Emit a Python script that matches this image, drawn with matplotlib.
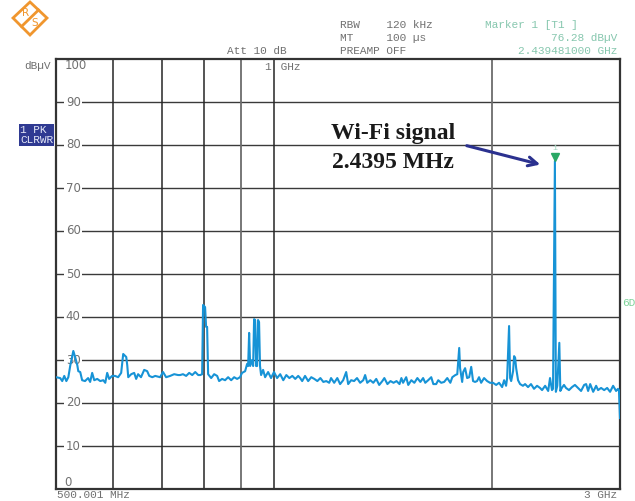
import matplotlib.pyplot as plt
from matplotlib.patches import Polygon
from matplotlib.lines import Line2D
from matplotlib.ticker import NullLocator
from matplotlib.transforms import offset_copy

# spectrum trace (MHz, dBuV)
freq_mhz = [
    500, 506.7, 510, 513.3, 516.7, 520, 523.3, 528.3, 531.7, 535,
    536.7, 540, 543.3, 548.3, 553.7, 557.3, 560.9, 564.6, 570, 575.5,
    581, 584.7, 588.3, 592, 597.5, 603.2, 609.1, 615, 619, 625,
    627, 629, 635, 641, 645, 649, 655, 661.7, 668, 672.4,
    678.9, 685.3, 696, 702.5, 709.4, 718.6, 727.8, 737,
    741.6, 748.5, 756, 763.4, 770.8, 778.2, 785.6, 790.5, 795.4, 797.8,
    802.9, 805.5, 808.1, 810.7, 818.6, 826.4, 834.3, 839.5, 847.4, 855.6,
    863.9, 872.3, 880.6, 888.9, 897.2, 902.9, 911.8, 917.6, 920.6, 923.5,
    926.5, 932.4, 935.3, 938.2, 941.2, 944.1, 947.1, 950, 953.1, 956,
    959.3, 965.4, 971.6, 980.9, 990.1, 999.4, 1009.3, 1019.3, 1029.3, 1039.3,
    1049.3, 1059.3, 1069.3, 1079.3,
    1086, 1093, 1103, 1114, 1125, 1136, 1147, 1158, 1169, 1180,
    1191, 1198, 1210, 1222, 1233, 1245, 1257, 1265, 1277, 1289,
    1301, 1314, 1327, 1335, 1344, 1357, 1370, 1383, 1396, 1410,
    1419, 1433, 1447, 1461, 1475, 1489, 1498, 1506, 1521, 1531,
    1546, 1561, 1576, 1591,
    1605, 1616, 1631, 1647, 1658, 1673, 1684, 1700, 1716, 1733,
    1750, 1761, 1778, 1789, 1800, 1805, 1817, 1823, 1834, 1846,
    1858, 1870, 1881, 1893, 1905, 1917, 1930, 1948, 1967, 1985,
    2004, 2024, 2043, 2063, 2076, 2089, 2096, 2109, 2116, 2123,
    2136, 2143, 2150, 2157, 2170, 2184, 2204, 2219, 2240, 2261,
    2283, 2305, 2327,
    2342, 2365, 2388, 2402, 2417, 2425, 2439.481, 2447, 2458, 2474,
    2482, 2494, 2511, 2527, 2551, 2576, 2600, 2625, 2651, 2677,
    2694, 2711, 2729, 2755, 2781, 2798, 2825, 2853, 2880, 2907,
    2935, 2963, 2981, 2990, 3000,
]
level_dbuv = [
    26.0, 25.8, 25.1, 26.3, 25.1, 26.0, 28.8, 32.1, 30.5, 28.8,
    27.4, 27.2, 25.3, 25.1, 25.8, 24.9, 27.0, 25.3, 25.6, 25.1,
    25.3, 24.7, 27.0, 25.6, 26.3, 26.3, 26.0, 27.0, 31.4, 30.7,
    28.8, 26.0, 26.7, 27.0, 25.6, 26.7, 26.0, 27.7, 27.4, 26.3,
    26.0, 26.3, 26.0, 27.2, 26.0, 26.3, 26.7, 26.5,
    26.5, 26.7, 26.3, 27.0, 26.5, 27.2, 26.5, 26.5, 26.7, 42.8,
    42.3, 37.7, 37.7, 26.7, 25.8, 26.7, 26.3, 25.1, 25.6, 25.3,
    26.0, 25.3, 26.0, 25.6, 26.0, 27.0, 27.4, 29.1, 28.6, 36.3,
    28.6, 30.0, 28.6, 39.5, 39.3, 28.6, 28.6, 39.3, 38.8, 28.6,
    26.5, 27.7, 26.0, 27.2, 25.8, 27.2, 25.8, 26.7, 25.3, 26.5,
    25.8, 26.3, 25.6, 26.3,
    25.8, 25.1, 26.3, 25.1, 26.0, 25.6, 25.1, 25.8, 24.9, 25.1,
    24.7, 25.8, 24.7, 25.8, 24.4, 25.3, 27.2, 24.4, 25.3, 25.1,
    25.8, 24.7, 25.3, 26.5, 24.7, 25.3, 24.7, 25.6, 24.2, 25.1,
    25.8, 24.4, 25.1, 24.7, 25.1, 24.4, 25.8, 24.7, 26.0, 24.2,
    25.3, 24.7, 25.8, 24.9,
    25.8, 24.7, 25.3, 26.0, 24.4, 24.4, 25.3, 24.7, 24.9, 25.8,
    24.7, 26.0, 26.5, 26.7, 32.8, 28.1, 24.9, 27.2, 28.1, 25.8,
    26.0, 28.4, 25.1, 24.9, 25.1, 26.0, 24.7, 25.8, 25.1, 24.7,
    24.7, 24.2, 24.7, 23.7, 25.3, 24.0, 25.8, 37.9, 25.8, 25.1,
    27.4, 30.9, 30.5, 28.1, 25.3, 24.4, 24.0, 24.4, 23.7, 24.4,
    23.3, 24.0, 23.5,
    23.0, 24.0, 22.8, 25.8, 23.0, 23.3, 76.28, 22.6, 24.0, 34.0,
    22.8, 23.5, 24.2, 23.5, 23.0, 23.7, 24.2, 23.5, 22.8, 24.2,
    24.4, 22.8, 24.4, 22.6, 24.0, 23.0, 23.5, 23.0, 23.5, 22.6,
    24.0, 22.8, 23.3, 23.0, 16.5,
]

marker_freq = 2439.481
marker_level = 76.28
y_levels = [10, 20, 30, 40, 50, 60, 70, 80, 90]
dark_grid_mhz = [600, 700, 800, 1000]
light_grid_mhz = [900, 2000]

W, H = 635, 501
mono = 'Liberation Mono'
gray = '#707070'
teal = '#86c7ae'


def px(x, y):
    return x / W, 1 - y / H


fig = plt.figure(figsize=(W / 100, H / 100), dpi=100)
ax = fig.add_axes([56 / W, 12 / H, 564 / W, 430 / H])
ax.set_xscale('log')
ax.set_xlim(500.001, 3000)
ax.set_ylim(0, 100)
ax.xaxis.set_major_locator(NullLocator())
ax.xaxis.set_minor_locator(NullLocator())
ax.set_yticks([])
for s in ax.spines.values():
    s.set_color('#333333')
    s.set_linewidth(1.6)

for v in y_levels:
    ax.axhline(v, color='#3a3a3a', lw=1.0, zorder=1)
for f in dark_grid_mhz:
    ax.axvline(f, color='#262626', lw=1.1, zorder=1)
for f in light_grid_mhz:
    ax.axvline(f, color='#6c6c6c', lw=1.3, zorder=1)

# level labels sit inside the grid
ytr = ax.get_yaxis_transform()
for v in y_levels:
    ax.text(0.0175, v, str(v), transform=ytr, ha='left', va='center',
            fontsize=8.5, color=gray, zorder=2,
            bbox=dict(facecolor='white', edgecolor='none', pad=1.0))
ax.text(0.016, 98.4, '100', transform=ytr, ha='left', va='center',
        fontsize=8.5, color=gray)
ax.text(0.014, 1.4, '0', transform=ytr, ha='left', va='center',
        fontsize=8.5, color=gray)

ax.plot(freq_mhz, level_dbuv, color='#1793d6', lw=1.5, zorder=3)

# marker 1
tri = offset_copy(ax.transData, fig=fig, x=0, y=3, units='points')
ax.plot([marker_freq], [marker_level], marker='v', ms=6, color='#2aa865',
        transform=tri, zorder=4)
ax.annotate('1', (marker_freq, marker_level), xytext=(0, 9),
            textcoords='offset points', ha='center', va='center',
            fontsize=6, color='#9fd3bd', family=mono)

# annotation
ax.text(1460, 82.6, 'Wi-Fi signal', ha='center', va='center',
        fontsize=17, fontweight='bold', family='Liberation Serif',
        color='#1a1a1a')
ax.text(1460, 76.0, '2.4395 MHz', ha='center', va='center',
        fontsize=17, fontweight='bold', family='Liberation Serif',
        color='#1a1a1a')
ax.annotate('', xy=(2349, 75.3), xytext=(1828, 80.0),
            arrowprops=dict(arrowstyle='->', color='#2b318f', lw=2.2,
                            mutation_scale=16))

# GHz mark at the 1 GHz line
ax.annotate('1', (1000, 98.2), xytext=(-2.5, 0), textcoords='offset points',
            ha='right', va='center', fontsize=8, family=mono, color=gray)
ax.text(1000, 98.2, ' GHz', ha='left', va='center', fontsize=8,
        family=mono, color=gray)

# header texts
fig.text(*px(340, 25), 'RBW    120 kHz', fontsize=8, family=mono,
         color=gray, va='center')
fig.text(*px(340, 38), 'MT     100 \u00b5s', fontsize=8, family=mono,
         color=gray, va='center')
fig.text(*px(340, 51), 'PREAMP OFF', fontsize=8, family=mono,
         color=gray, va='center')
fig.text(*px(227, 51), 'Att 10 dB', fontsize=8, family=mono,
         color=gray, va='center')
fig.text(*px(485, 25), 'Marker 1 [T1 ]', fontsize=8, family=mono,
         color=teal, va='center')
fig.text(*px(617, 38), '76.28 dB\u00b5V', fontsize=8, family=mono,
         color=teal, va='center', ha='right')
fig.text(*px(617, 51), '2.439481000 GHz', fontsize=8, family=mono,
         color=teal, va='center', ha='right')
fig.text(*px(51, 66), 'dB\u00b5V', fontsize=8, family=mono,
         color=gray, va='center', ha='right')
fig.text(*px(622, 303), '6D', fontsize=8, family=mono,
         color='#7fd39a', va='center')
fig.text(*px(57, 495), '500.001 MHz', fontsize=8, family=mono,
         color=gray, va='center')
fig.text(*px(617, 495), '3 GHz', fontsize=8, family=mono,
         color=gray, va='center', ha='right')

# trace info boxes
box = dict(facecolor='#2f3a92', edgecolor='none', pad=0.8)
fig.text(*px(20, 130), '1 PK ', fontsize=8, family=mono,
         color='#e4e7f7', va='center', bbox=box)
fig.text(*px(20, 140), 'CLRWR', fontsize=8, family=mono,
         color='#e4e7f7', va='center', bbox=box)

# R&S logo
orange = '#f0962e'
diamond = [px(30, 2), px(47, 18), px(30, 35), px(13, 18)]
fig.add_artist(Polygon(diamond, closed=True, fill=False, edgecolor=orange,
                       lw=2.0, transform=fig.transFigure))
a, b = px(38.5, 10), px(21.5, 26.5)
fig.add_artist(Line2D([a[0], b[0]], [a[1], b[1]], color=orange, lw=2.0,
                      transform=fig.transFigure))
fig.text(*px(26, 13), 'R', fontsize=7.5, color=orange, ha='center',
         va='center')
fig.text(*px(34.5, 23.5), 'S', fontsize=7.5, color=orange, ha='center',
         va='center')

fig.savefig('out.png', dpi=100)
